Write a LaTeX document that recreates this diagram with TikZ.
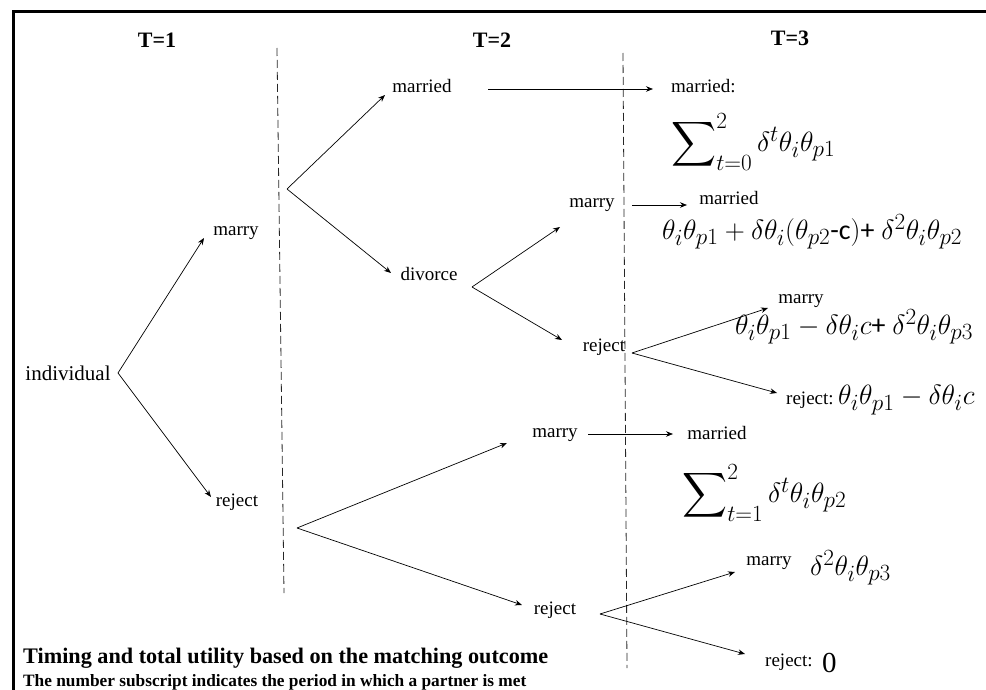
\documentclass[tikz,border=0pt]{standalone}
\usepackage{amsmath}
\usepackage{fontspec}
\setmainfont{Liberation Serif}
\setsansfont{Carlito}
\usepackage{graphicx}
\usetikzlibrary{arrows.meta}
\newcommand{\bigsum}{\mathop{\vcenter{\hbox{\scalebox{1.12}{$\displaystyle\sum$}}}}\nolimits}
\newcommand{\fm}[1]{\scalebox{1.12}{$#1$}}
\begin{document}
\begin{tikzpicture}[x=1pt,y=-1pt,
  lbl/.style={font=\fontsize{19}{22}\selectfont, inner sep=0pt},
  hdr/.style={font=\fontsize{22}{26}\selectfont\bfseries, inner sep=0pt},
  mth/.style={font=\fontsize{24.88}{30}\selectfont, inner sep=0pt, anchor=west},
  arr/.style={-{Stealth[length=7pt,width=5.5pt]}, line width=0.7pt},
  sepline/.style={draw=black!85, dash pattern=on 8pt off 4pt, line width=0.8pt},
  frameline/.style={line width=3pt, draw=black}
]
\useasboundingbox (0,0) rectangle (986,690);

% frame
\coordinate (fr1) at (13,690);
\coordinate (fr2) at (13,12);
\coordinate (fr3) at (986,12);
\draw[frameline] (fr1) -- (fr2) -- (fr3);

% period headers
\node[hdr] (h1) at (157,40) {T=1};
\node[hdr] (h2) at (492,40) {T=2};
\node[hdr] (h3) at (790,38) {T=3};

% separators
\coordinate (d1a) at (277,48);
\coordinate (d1b) at (284,593);
\coordinate (d2a) at (623,53);
\coordinate (d2b) at (627,668);
\draw[sepline] (d1a) -- (d1b);
\draw[sepline] (d2a) -- (d2b);

% labels
\node[lbl, font=\fontsize{21}{24}\selectfont] (ind) at (68,373) {individual};
\node[lbl] (marry1) at (236,233) {marry};
\node[lbl] (reject1) at (237,502) {reject};
\node[lbl] (married2) at (422,86) {married};
\node[lbl] (divorce) at (429,274) {divorce};
\node[lbl] (marry2a) at (592,205) {marry};
\node[lbl, anchor=west] (married3a) at (671,86) {married:};
\node[mth, inner ysep=-5pt] (u1) at (671,142) {\fm{\bigsum_{t=0}^{2}\delta^{t}\theta_i\theta_{p1}}};
\node[lbl] (married3b) at (729,198) {married};
\node[mth] (u2) at (662,232) {\fm{\theta_i\theta_{p1}+\delta\theta_i(\theta_{p2}\text{\sffamily -c})\text{\sffamily +}\ \delta^{2}\theta_i\theta_{p2}}};
\node[lbl] (reject2a) at (604,347) {reject};
\node[lbl] (marry3a) at (801,301) {marry};
\node[mth] (u3) at (735,327) {\fm{\theta_i\theta_{p1}-\delta\theta_i c\text{\sffamily +}\ \delta^{2}\theta_i\theta_{p3}}};
\node[lbl, anchor=west] (reject3a) at (786,400) {reject:};
\node[mth] (u4) at (838,400) {\fm{\theta_i\theta_{p1}-\delta\theta_i c}};
\node[lbl] (marry2b) at (555,435) {marry};
\node[lbl] (married3c) at (717,433) {married};
\node[mth, inner ysep=-5pt] (u5) at (682,493) {\fm{\bigsum_{t=1}^{2}\delta^{t}\theta_i\theta_{p2}}};
\node[lbl] (reject2b) at (555,610) {reject};
\node[lbl] (marry3b) at (769,563) {marry};
\node[mth] (u6) at (810,568) {\fm{\delta^{2}\theta_i\theta_{p3}}};
\node[lbl, anchor=west] (reject3b) at (765,662) {reject:};
\node[anchor=west, inner sep=0pt, font=\fontsize{29}{30}\selectfont] (u7) at (822,663) {0};

% caption
\node[anchor=west, inner sep=0pt, font=\fontsize{22.2}{26}\selectfont\bfseries] (cap1) at (23,658) {Timing and total utility based on the matching outcome};
\node[anchor=west, inner sep=0pt, font=\fontsize{17.3}{20}\selectfont\bfseries] (cap2) at (23,682) {The number subscript indicates the period in which a partner is met};

% branch points and arrow tips
\coordinate (b0) at (118,373);
\coordinate (tm1) at (204,238);
\coordinate (tr1) at (211,497);
\coordinate (b1) at (287,189);
\coordinate (tmd2) at (385,95);
\coordinate (tdv) at (391,273);
\coordinate (s1) at (488,89);
\coordinate (t1) at (653,89);
\coordinate (b2) at (472,287);
\coordinate (tm2a) at (560,227);
\coordinate (tr2a) at (562,340);
\coordinate (s2) at (632,205);
\coordinate (t2) at (687,205);
\coordinate (b3) at (632,353);
\coordinate (tm3a) at (768,308);
\coordinate (tr3a) at (777,393);
\coordinate (b4) at (297,528);
\coordinate (tm2b) at (507,443);
\coordinate (tr2b) at (522,605);
\coordinate (s3) at (588,434);
\coordinate (t3) at (673,434);
\coordinate (b5) at (600,614);
\coordinate (tm3b) at (735,572);
\coordinate (tr3b) at (745,654);

\draw[arr] (b0) -- (tm1);
\draw[arr] (b0) -- (tr1);
\draw[arr] (b1) -- (tmd2);
\draw[arr] (b1) -- (tdv);
\draw[arr] (s1) -- (t1);
\draw[arr] (b2) -- (tm2a);
\draw[arr] (b2) -- (tr2a);
\draw[arr] (s2) -- (t2);
\draw[arr] (b3) -- (tm3a);
\draw[arr] (b3) -- (tr3a);
\draw[arr] (b4) -- (tm2b);
\draw[arr] (b4) -- (tr2b);
\draw[arr] (s3) -- (t3);
\draw[arr] (b5) -- (tm3b);
\draw[arr] (b5) -- (tr3b);
\end{tikzpicture}
\end{document}
